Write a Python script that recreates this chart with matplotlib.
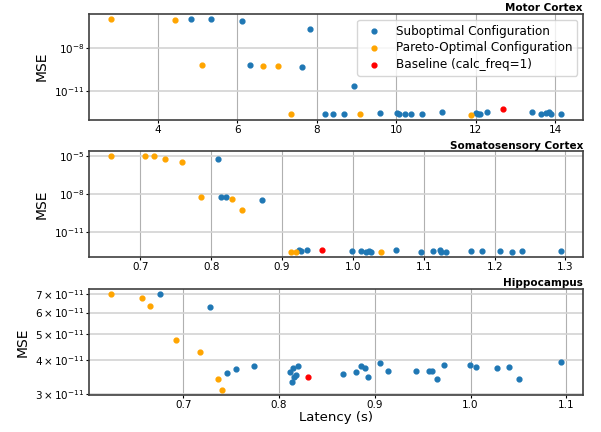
import matplotlib
matplotlib.use('Agg')
from matplotlib import pyplot as plt
from matplotlib import ticker

# Motor Cortex
motor_sub_lat = [4.83, 5.33, 6.12, 6.33, 7.62, 7.82, 8.93, 8.2, 8.4, 8.7, 9.6, 10.02, 10.08,
                 10.23, 10.38, 10.64, 11.16, 12.0, 12.06, 12.12, 12.28, 13.41, 13.66, 13.78,
                 13.85, 13.91, 14.14]
motor_sub_mse = [1.17e-6, 1.07e-6, 7.6e-7, 6.2e-10, 4.5e-10, 2.1e-7, 2.0e-11, 2.34e-13, 2.34e-13,
                 2.34e-13, 2.78e-13, 2.78e-13, 2.34e-13, 2.34e-13, 2.34e-13, 2.34e-13, 3.24e-13,
                 2.5e-13, 2.34e-13, 2.34e-13, 2.95e-13, 3.24e-13, 2.34e-13, 2.6e-13, 2.95e-13,
                 2.34e-13, 2.34e-13]
motor_par_lat = [2.83, 4.42, 5.10, 6.64, 7.02, 7.36, 9.1, 11.88]
motor_par_mse = [1.17e-6, 1.0e-6, 6.2e-10, 5.9e-10, 5.6e-10, 2.34e-13, 2.3e-13, 2.0e-13]
motor_base_lat = [12.68]
motor_base_mse = [5.0e-13]

# Somatosensory Cortex
soma_sub_lat = [0.810, 0.814, 0.821, 0.872, 0.924, 0.927, 0.935, 0.998, 1.012, 1.018, 1.022,
                1.026, 1.061, 1.096, 1.113, 1.123, 1.124, 1.132, 1.166, 1.182, 1.208, 1.225,
                1.238, 1.293]
soma_sub_mse = [5.5e-6, 5.75e-9, 5.75e-9, 3.3e-9, 3.2e-13, 2.8e-13, 3.2e-13, 3.0e-13, 2.7e-13,
                2.6e-13, 2.7e-13, 2.6e-13, 3.6e-13, 2.6e-13, 2.8e-13, 3.2e-13, 2.6e-13, 2.6e-13,
                2.7e-13, 2.7e-13, 2.8e-13, 2.6e-13, 2.7e-13, 2.7e-13]
soma_par_lat = [0.659, 0.707, 0.719, 0.734, 0.758, 0.786, 0.829, 0.843, 0.912, 0.919, 1.039]
soma_par_mse = [1e-5, 1e-5, 1e-5, 6.2e-6, 3.4e-6, 5.75e-9, 4.3e-9, 4.8e-10, 2.5e-13, 2.5e-13, 2.2e-13]
soma_base_lat = [0.957]
soma_base_mse = [3.6e-13]

# Hippocampus
hippo_sub_lat = [0.676, 0.728, 0.746, 0.755, 0.774, 0.8115, 0.814, 0.815, 0.816, 0.818, 0.820,
                 0.867, 0.880, 0.886, 0.890, 0.893, 0.9055, 0.914, 0.943, 0.9565, 0.960, 0.965,
                 0.972, 0.9995, 1.006, 1.028, 1.040, 1.051, 1.094]
hippo_sub_mse = [7.04e-11, 6.30e-11, 3.58e-11, 3.71e-11, 3.80e-11, 3.60e-11, 3.33e-11, 3.73e-11,
                 3.47e-11, 3.53e-11, 3.81e-11, 3.56e-11, 3.62e-11, 3.79e-11, 3.73e-11, 3.45e-11,
                 3.92e-11, 3.65e-11, 3.65e-11, 3.64e-11, 3.66e-11, 3.42e-11, 3.83e-11, 3.85e-11,
                 3.76e-11, 3.74e-11, 3.76e-11, 3.42e-11, 3.95e-11]
hippo_par_lat = [0.625, 0.657, 0.665, 0.692, 0.7175, 0.736, 0.740]
hippo_par_mse = [7.0e-11, 6.77e-11, 6.37e-11, 4.73e-11, 4.27e-11, 3.42e-11, 3.10e-11]
hippo_base_lat = [0.830]
hippo_base_mse = [3.46e-11]

regions = ['Motor Cortex', 'Somatosensory Cortex', 'Hippocampus']
panels = [
    (motor_sub_lat, motor_sub_mse, motor_par_lat, motor_par_mse, motor_base_lat, motor_base_mse),
    (soma_sub_lat, soma_sub_mse, soma_par_lat, soma_par_mse, soma_base_lat, soma_base_mse),
    (hippo_sub_lat, hippo_sub_mse, hippo_par_lat, hippo_par_mse, hippo_base_lat, hippo_base_mse),
]
major_ticks = [[1e-8, 1e-11], [1e-5, 1e-8, 1e-11], None]
hippo_minor_ticks = [3e-11, 4e-11, 5e-11, 6e-11, 7e-11]

fig, axes = plt.subplots(3, 1, figsize=(6.01, 4.32), dpi=100)
fig.subplots_adjust(left=0.148, right=0.970, top=0.968, bottom=0.086, hspace=0.30)

for i, ax in enumerate(axes):
    sub_x, sub_y, par_x, par_y, base_x, base_y = panels[i]
    ax.scatter(sub_x, sub_y, s=12, color='#1f77b4', label='Suboptimal Configuration', zorder=3)
    ax.scatter(par_x, par_y, s=12, color='orange', label='Pareto-Optimal Configuration', zorder=4)
    ax.scatter(base_x, base_y, s=12, color='red', label='Baseline (calc_freq=1)', zorder=5)
    ax.set_yscale('log')

    if major_ticks[i] is not None:
        ax.yaxis.set_major_locator(ticker.FixedLocator(major_ticks[i]))
        ax.yaxis.set_minor_locator(ticker.NullLocator())
    else:
        # 跨度不到一个数量级，只标次刻度
        ax.yaxis.set_major_locator(ticker.NullLocator())
        ax.yaxis.set_minor_locator(ticker.FixedLocator(hippo_minor_ticks))

    # 网格：竖线深一点，横线浅一点
    ax.xaxis.grid(True, color='#b0b0b0', linewidth=0.8)
    ax.yaxis.grid(True, which='both', color='#d3d3d3', linewidth=1.2)
    ax.set_axisbelow(True)

    for sp in ax.spines.values():
        sp.set_color('#404040')
        sp.set_linewidth(1.2)
    ax.tick_params(which='both', length=2, width=0.8, labelsize=7.5, pad=1.5)

    ax.set_ylabel('MSE', fontsize=10)
    ax.set_title(regions[i], loc='right', fontweight='bold', fontsize=7.5, pad=2)

axes[0].legend(loc='upper right', fontsize=8.65, labelspacing=0.3)
axes[2].set_xlabel('Latency (s)', fontsize=9.5, labelpad=1)

plt.savefig('out.png', dpi=100)
